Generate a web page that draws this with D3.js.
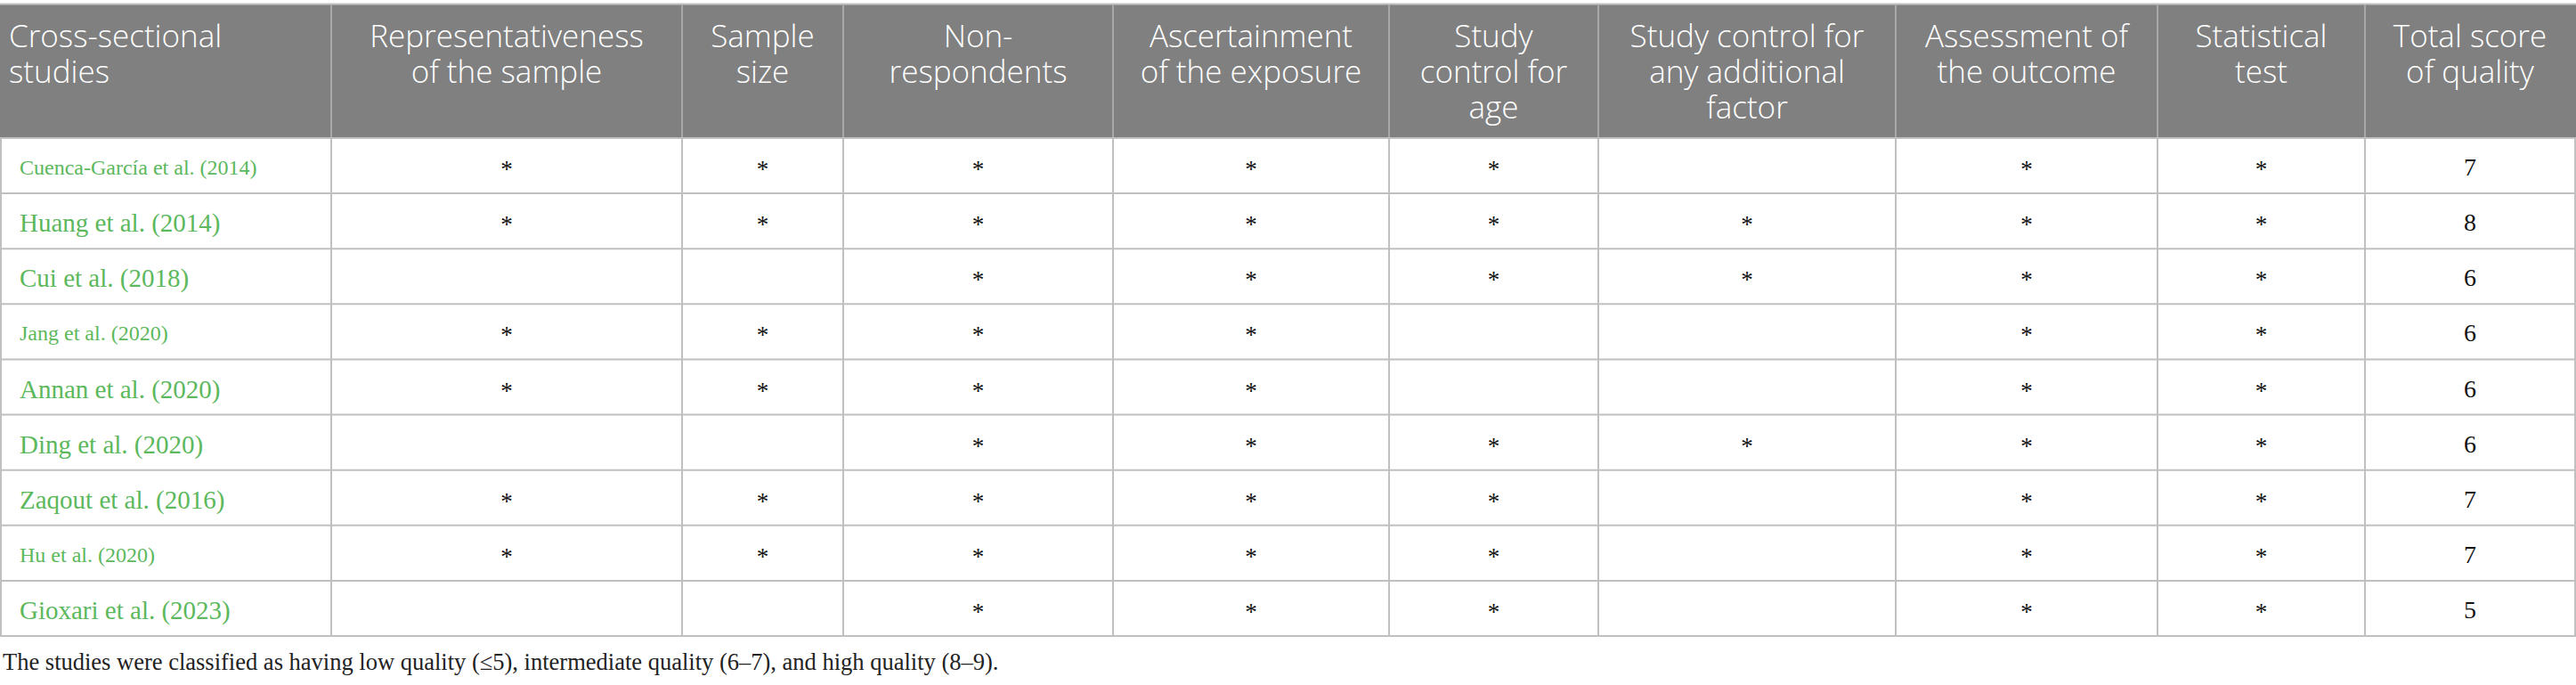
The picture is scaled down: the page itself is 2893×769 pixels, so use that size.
<!DOCTYPE html>
<html>
<head>
<meta charset="utf-8">
<script src="https://cdn.jsdelivr.net/npm/d3@7"></script>
<style>
  body { margin: 0; background: #fff; }
  svg { display: block; }
</style>
</head>
<body>
<script>
// table content
const studies = [
  "Cuenca-García et al. (2014)", "Huang et al. (2014)", "Cui et al. (2018)",
  "Jang et al. (2020)", "Annan et al. (2020)", "Ding et al. (2020)",
  "Zaqout et al. (2016)", "Hu et al. (2020)", "Gioxari et al. (2023)"
];
const headers = [
  ["Cross-sectional", "studies"],
  ["Representativeness", "of the sample"],
  ["Sample", "size"],
  ["Non-", "respondents"],
  ["Ascertainment", "of the exposure"],
  ["Study", "control for", "age"],
  ["Study control for", "any additional", "factor"],
  ["Assessment of", "the outcome"],
  ["Statistical", "test"],
  ["Total score", "of quality"]
];
// 1 = star awarded, per criterion column
const stars = [
  [1, 1, 1, 1, 1, 0, 1, 1],
  [1, 1, 1, 1, 1, 1, 1, 1],
  [0, 0, 1, 1, 1, 1, 1, 1],
  [1, 1, 1, 1, 0, 0, 1, 1],
  [1, 1, 1, 1, 0, 0, 1, 1],
  [0, 0, 1, 1, 1, 1, 1, 1],
  [1, 1, 1, 1, 1, 0, 1, 1],
  [1, 1, 1, 1, 1, 0, 1, 1],
  [0, 0, 1, 1, 1, 0, 1, 1]
];
const totals = [7, 8, 6, 6, 6, 6, 7, 7, 5];
const footnote = "The studies were classified as having low quality (\u22645), intermediate quality (6\u20137), and high quality (8\u20139).";

// layout
const width = 2893, height = 769;
const colEdges = [1, 372, 766, 947, 1250, 1560, 1795, 2129, 2423, 2656, 2892];
const smallRows = new Set([0, 3, 7]);
const serif = "'Liberation Serif', 'Times New Roman', serif";
const sans = "'Open Sans', 'Noto Sans', sans-serif";

const svg = d3.select("body").append("svg")
    .attr("width", width)
    .attr("height", height);

const y = d3.scaleBand()
    .domain(d3.range(studies.length))
    .range([155, 714]);

const x = d3.scaleOrdinal()
    .domain(d3.range(colEdges.length))
    .range(colEdges);
const colMid = i => (x(i) + x(i + 1)) / 2;

// header band
svg.append("rect")
    .attr("x", 0).attr("y", 5)
    .attr("width", width).attr("height", 150)
    .attr("fill", "#808080");
svg.append("line")
    .attr("x1", 0).attr("x2", width)
    .attr("y1", 4.5).attr("y2", 4.5)
    .attr("stroke", "#c4c4c4").attr("stroke-width", 2);

// header separators
svg.append("g")
  .selectAll("line")
  .data(d3.range(1, colEdges.length - 1))
  .join("line")
    .attr("x1", d => x(d)).attr("x2", d => x(d))
    .attr("y1", 5).attr("y2", 155)
    .attr("stroke", "#a8a8a8").attr("stroke-width", 2);

// header text
const head = svg.append("g")
    .attr("fill", "#fff")
    .attr("font-family", sans)
    .attr("font-weight", 300)
    .attr("font-size", 35);
headers.forEach((lines, i) => {
  const t = head.append("text")
      .attr("text-anchor", i === 0 ? "start" : "middle");
  t.selectAll("tspan")
    .data(lines)
    .join("tspan")
      .attr("x", i === 0 ? 10 : colMid(i))
      .attr("y", (d, k) => 53 + k * 40)
      .text(d => d);
});

// body grid
const grid = svg.append("g")
    .attr("stroke", "#c0c0c0")
    .attr("stroke-width", 2);
grid.selectAll("line.h")
  .data(d3.range(studies.length + 1))
  .join("line")
    .attr("class", "h")
    .attr("x1", 0).attr("x2", width)
    .attr("y1", d => d < studies.length ? y(d) : y.range()[1])
    .attr("y2", d => d < studies.length ? y(d) : y.range()[1]);
grid.selectAll("line.v")
  .data(d3.range(colEdges.length))
  .join("line")
    .attr("class", "v")
    .attr("x1", d => x(d)).attr("x2", d => x(d))
    .attr("y1", 155).attr("y2", 714);

// rows
const rows = svg.append("g")
  .selectAll("g")
  .data(studies)
  .join("g")
    .attr("transform", (d, i) => `translate(0,${y(i) + y.bandwidth() / 2})`);

rows.append("text")
    .attr("x", 22)
    .attr("y", (d, i) => smallRows.has(i) ? 10 : 12)
    .attr("font-family", serif)
    .attr("font-size", (d, i) => smallRows.has(i) ? 24 : 29)
    .attr("fill", "#5cb85c")
    .text(d => d);

rows.selectAll("text.star")
  .data((d, i) => stars[i].map((v, c) => ({v, c: c + 1})).filter(e => e.v))
  .join("text")
    .attr("class", "star")
    .attr("x", e => colMid(e.c))
    .attr("y", 13)
    .attr("text-anchor", "middle")
    .attr("font-family", serif)
    .attr("font-size", 27)
    .attr("fill", "#111")
    .text("*");

rows.append("text")
    .attr("x", colMid(colEdges.length - 2))
    .attr("y", 11)
    .attr("text-anchor", "middle")
    .attr("font-family", serif)
    .attr("font-size", 28)
    .attr("fill", "#111")
    .text((d, i) => totals[i]);

// footnote
svg.append("text")
    .attr("x", 3)
    .attr("y", 752)
    .attr("font-family", serif)
    .attr("font-size", 26.5)
    .attr("fill", "#222")
    .text(footnote);
</script>
</body>
</html>
